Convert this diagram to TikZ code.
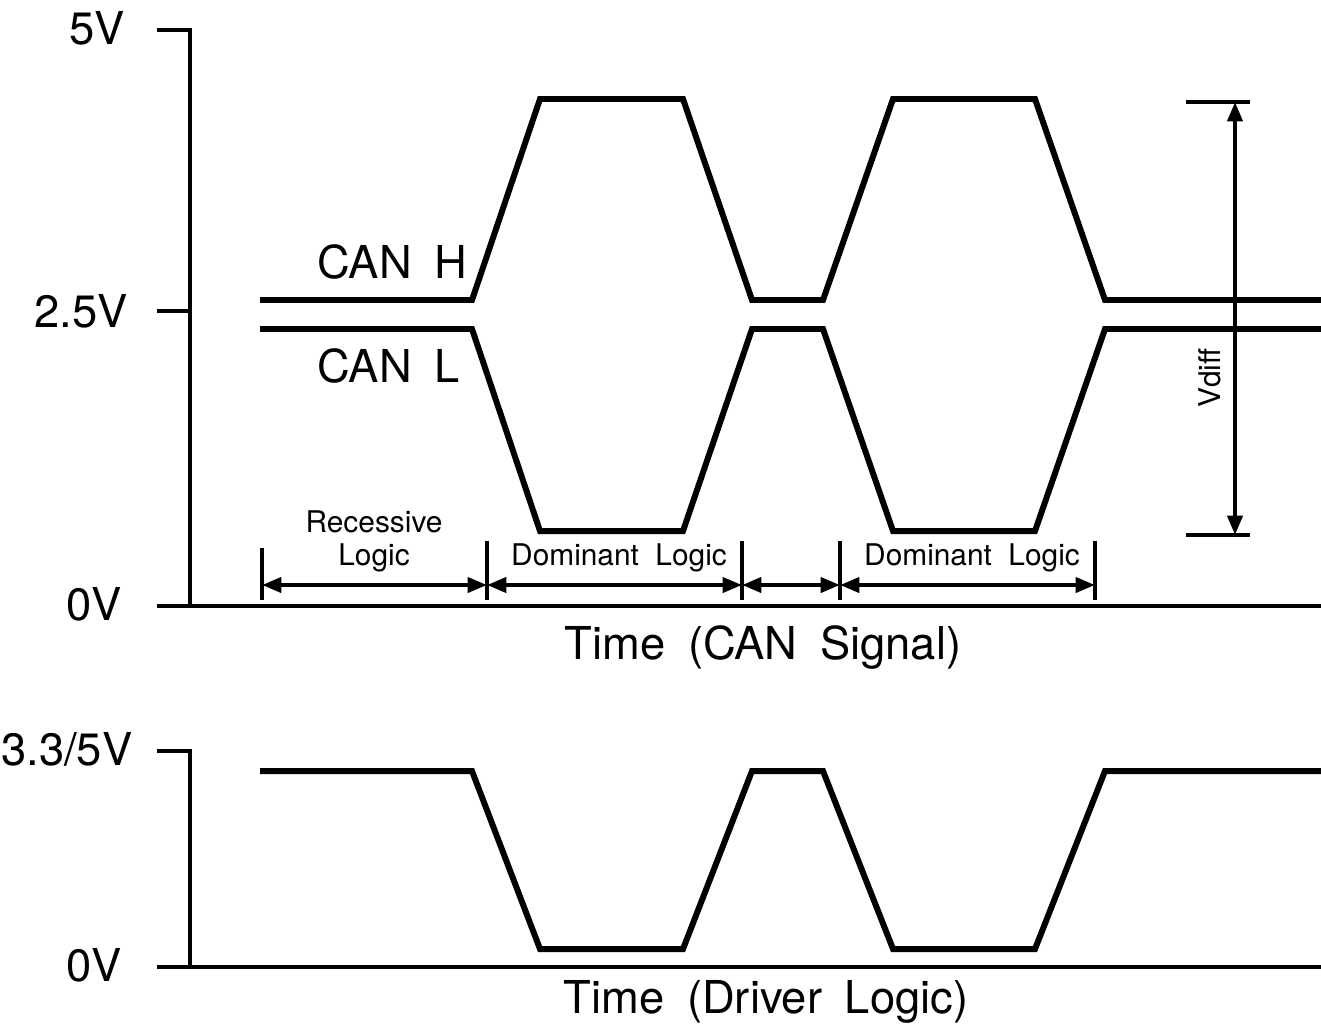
\documentclass[tikz,border=0pt]{standalone}
\usepackage{fontspec}
\setmainfont{TeX Gyre Heros}
\usetikzlibrary{arrows.meta}

\tikzset{
  wave/.style={line width=3.4pt},
  axis/.style={line width=2.3pt},
  bar/.style={line width=2.6pt},
  dimarrow/.style={line width=2.3pt,
    {Triangle[length=11pt,width=8.5pt]}-{Triangle[length=11pt,width=8.5pt]}},
  biglabel/.style={font=\fontsize{25.8}{29}\selectfont, inner sep=0pt},
  smalllabel/.style={font=\fontsize{17}{18.7}\selectfont, inner sep=0pt, align=center},
}

\begin{document}
\begin{tikzpicture}[x=0.02cm,y=-0.02cm]
        \useasboundingbox (0,0) rectangle (1321,1029);

        % CAN signal axes
        \draw[axis] (157,30) -- (190,30) -- (190,606);
        \draw[axis] (157,311) -- (190,311);
        \draw[axis] (157,606) -- (1321,606);
        \node[biglabel,anchor=east] (v5) at (125,28) {5V};
        \node[biglabel,anchor=east] (v25) at (128,311) {2.5V};
        \node[biglabel,anchor=east] (v0) at (122,604) {0V};

        % CAN H and CAN L
        \draw[wave] (260,300) -- (472,300) -- (540,99) -- (683,99) -- (752,300)
              -- (823,300) -- (893,99) -- (1035,99) -- (1105,300) -- (1321,300);
        \draw[wave] (260,329) -- (472,329) -- (540,531) -- (683,531) -- (752,329)
              -- (823,329) -- (893,531) -- (1035,531) -- (1105,329) -- (1321,329);
        \node[biglabel,anchor=west] (canh) at (317,262) {CAN\hspace{0.5em}H};
        \node[biglabel,anchor=west] (canl) at (317,366) {CAN\hspace{0.5em}L};

        % Vdiff
        \draw[bar] (1186,102) -- (1250,102);
        \draw[bar] (1186,535) -- (1250,535);
        \coordinate (vtop) at (1235,102);
        \coordinate (vbot) at (1235,535);
        \draw[dimarrow] (vbot) -- (vtop);
        \node[smalllabel,rotate=90] (vdiff) at (1210,378) {Vdiff};

        % logic intervals
        \draw[bar] (262,548) -- (262,600);
        \foreach \x in {487,742,840,1095}
            \draw[bar] (\x,541) -- (\x,600);
        \coordinate (d1) at (262,585);
        \coordinate (d2) at (487,585);
        \coordinate (d3) at (742,585);
        \coordinate (d4) at (840,585);
        \coordinate (d5) at (1095,585);
        \draw[dimarrow] (d1) -- (d2);
        \draw[dimarrow] (d2) -- (d3);
        \draw[dimarrow] (d3) -- (d4);
        \draw[dimarrow] (d4) -- (d5);
        \node[smalllabel] (rec) at (374,541) {Recessive\\Logic};
        \node[smalllabel] (dom1) at (619,558) {Dominant\hspace{0.55em}Logic};
        \node[smalllabel] (dom2) at (972,558) {Dominant\hspace{0.55em}Logic};

        \node[biglabel] (tcan) at (763,647) {Time\hspace{0.5em}(CAN\hspace{0.5em}Signal)};

        % driver logic
        \draw[axis] (157,751) -- (190,751) -- (190,967);
        \draw[axis] (157,967) -- (1321,967);
        \node[biglabel,anchor=west] (v33) at (1,749) {3.3/5V};
        \node[biglabel,anchor=east] (v0b) at (122,965) {0V};
        \draw[wave] (260,771) -- (472,771) -- (540,949) -- (683,949) -- (752,771)
              -- (823,771) -- (893,949) -- (1035,949) -- (1105,771) -- (1321,771);
        \node[biglabel] (tdrv) at (766,1002) {Time\hspace{0.5em}(Driver\hspace{0.5em}Logic)};
    \end{tikzpicture}
\end{document}
